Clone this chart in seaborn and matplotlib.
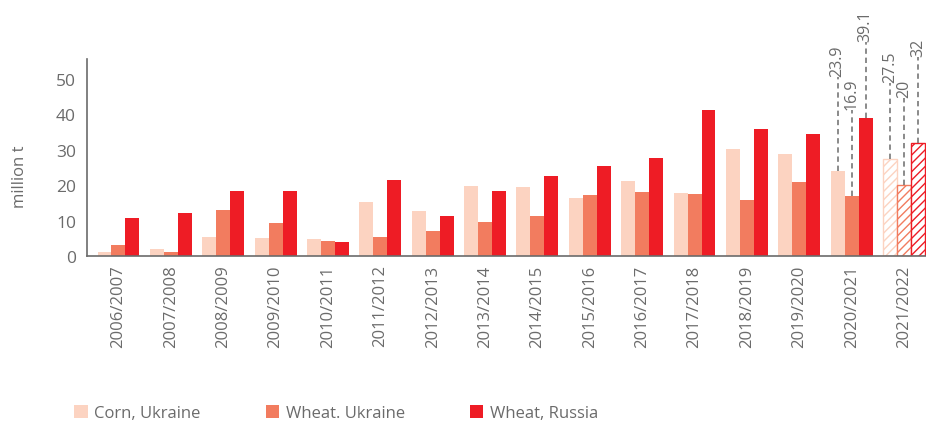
import pandas as pd
import seaborn as sns
import matplotlib.pyplot as plt
from matplotlib.patches import Patch

# DATA (million t)
seasons = ["2006/2007", "2007/2008", "2008/2009", "2009/2010", "2010/2011",
           "2011/2012", "2012/2013", "2013/2014", "2014/2015", "2015/2016",
           "2016/2017", "2017/2018", "2018/2019", "2019/2020", "2020/2021",
           "2021/2022"]
corn_ukraine = [1.2, 2.0, 5.4, 5.1, 4.8, 15.3, 12.7, 19.8, 19.5, 16.4,
                21.2, 17.8, 30.2, 28.8, 23.9, 27.5]
wheat_ukraine = [3.1, 1.2, 13.0, 9.3, 4.2, 5.4, 7.1, 9.6, 11.3, 17.2,
                 18.1, 17.5, 15.8, 20.9, 16.9, 20.0]
wheat_russia = [10.7, 12.2, 18.4, 18.4, 3.9, 21.5, 11.3, 18.4, 22.6, 25.4,
                27.7, 41.2, 35.9, 34.5, 39.1, 32.0]
series_names = ["Corn, Ukraine", "Wheat. Ukraine", "Wheat, Russia"]
annot_labels = {"2020/2021": ["23.9", "16.9", "39.1"],
                "2021/2022": ["27.5", "20", "32"]}

# STYLE
colors = ["#FCD3C1", "#F27C5F", "#EE1C25"]
grey = "#6b6b6b"
# height (data units) where each annotation text starts
annot_text_y = {"2020/2021": [50.8, 41.5, 60.7],
                "2021/2022": [49.2, 44.9, 56.5]}

sns.set_theme(style="white")
plt.rcParams["font.family"] = ["Open Sans", "DejaVu Sans"]
plt.rcParams["hatch.linewidth"] = 1.0

# LONG FORMAT TABLE FOR SEABORN
df = pd.DataFrame({
    "season": seasons * 3,
    "value": corn_ukraine + wheat_ukraine + wheat_russia,
    "series": [s for s in series_names for _ in seasons],
})

fig = plt.figure(figsize=(9.26, 4.27), dpi=100)
ax = fig.add_axes([0.094, 0.398, 0.906, 0.461])

sns.barplot(data=df, x="season", y="value", hue="series", order=seasons,
            hue_order=series_names, palette=colors, width=0.8,
            saturation=1, legend=False, linewidth=0, ax=ax)

# LAST SEASON IS A FORECAST: HATCHED BARS
for cont, col in zip(ax.containers, colors):
    bar = cont.patches[-1]
    bar.set_facecolor("white")
    bar.set_edgecolor(col)
    bar.set_hatch("////")
    bar.set_linewidth(1.0)

# DASHED LEADERS WITH VALUE LABELS
for season, labels in annot_labels.items():
    idx = seasons.index(season)
    for k, cont in enumerate(ax.containers):
        bar = cont.patches[idx]
        xc = bar.get_x() + bar.get_width() / 2
        top = bar.get_height()
        ty = annot_text_y[season][k]
        ax.plot([xc, xc], [top, ty - 0.3], color=grey, lw=1.1,
                ls=(0, (3.5, 2.5)), clip_on=False)
        ax.text(xc, ty, labels[k], rotation=90, ha="center", va="bottom",
                fontsize=11.5, color=grey, clip_on=False)

ax.set_xlim(-0.6, 15.42)
ax.set_ylim(0, 55.6)
ax.set_yticks([0, 10, 20, 30, 40, 50])
ax.tick_params(axis="x", rotation=90, labelsize=12, colors=grey,
               length=0, pad=6)
ax.tick_params(axis="y", labelsize=12.5, colors=grey, length=0, pad=8)
ax.set_xlabel("")
ax.set_ylabel("million t", fontsize=12, color=grey)
ax.yaxis.set_label_coords(-0.07, 0.41)

sns.despine(ax=ax)
for side in ["left", "bottom"]:
    ax.spines[side].set_color(grey)
    ax.spines[side].set_linewidth(1.2)

handles = [Patch(facecolor=c, edgecolor="none") for c in colors]
fig.legend(handles, series_names, loc="center left",
           bbox_to_anchor=(0.064, 0.03), ncol=3, frameon=False,
           fontsize=12, labelcolor=grey, handlelength=0.8,
           handleheight=0.8, handletextpad=0.4, columnspacing=3.9)

fig.savefig("out.png", dpi=100)
